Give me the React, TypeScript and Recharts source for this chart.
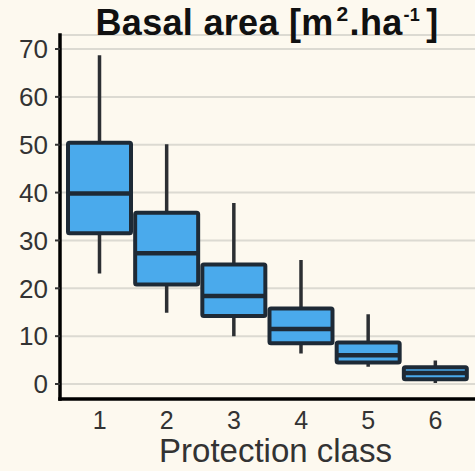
import React from 'react';
import { ComposedChart, Bar, XAxis, YAxis, CartesianGrid } from 'recharts';

const classes = ['1', '2', '3', '4', '5', '6'];
const whiskerLow = [23.1, 14.9, 10.0, 6.4, 3.6, 0.2];
const q1 = [31.5, 20.8, 14.2, 8.5, 4.5, 1.0];
const median = [39.8, 27.3, 18.4, 11.5, 6.0, 2.3];
const q3 = [50.4, 35.8, 25.0, 15.8, 8.7, 3.5];
const whiskerHigh = [68.7, 50.1, 37.8, 25.9, 14.6, 4.9];
const yTicks = [0, 10, 20, 30, 40, 50, 60, 70];

const data = classes.map((c, i) => ({
  cls: c,
  low: whiskerLow[i],
  q1: q1[i],
  median: median[i],
  q3: q3[i],
  high: whiskerHigh[i],
  range: [whiskerLow[i], whiskerHigh[i]],
}));

const BG = '#fdf9ef';
const FILL = '#4aaaec';
const EDGE = '#1e2a36';
const WHISK = '#2c2f33';
const FONT = '"Liberation Sans", Arial, sans-serif';

const BoxShape = (props: any) => {
  const { x, y, width, height, payload } = props;
  const p = payload;
  const span = p.high - p.low;
  const pix = (v: number) => y + (height * (p.high - v)) / span;
  const cx = x + width / 2;
  const yq3 = pix(p.q3);
  const yq1 = pix(p.q1);
  return (
    <g>
      <line x1={cx} x2={cx} y1={pix(p.high)} y2={yq3} stroke={WHISK} strokeWidth={3.5} />
      <line x1={cx} x2={cx} y1={yq1} y2={pix(p.low)} stroke={WHISK} strokeWidth={3.5} />
      <rect x={x} y={yq3} width={width} height={yq1 - yq3} fill={FILL} stroke={EDGE} strokeWidth={4} rx={1.5} />
      <line x1={x} x2={x + width} y1={pix(p.median)} y2={pix(p.median)} stroke={EDGE} strokeWidth={4.5} />
    </g>
  );
};

export default function App() {
  return (
    <div style={{ position: 'absolute', left: 0, top: 0, width: 475, height: 471, background: BG, overflow: 'hidden' }}>
      <ComposedChart
        width={475}
        height={471}
        data={data}
        margin={{ top: 35, right: 0, bottom: 0, left: 0 }}
        style={{ position: 'absolute', left: 0, top: 0 }}
      >
        <CartesianGrid horizontal vertical={false} stroke="#dcdad2" strokeWidth={2} />
        <XAxis
          dataKey="cls"
          type="category"
          padding={{ left: 6, right: 6 }}
          height={72}
          axisLine={{ stroke: '#000', strokeWidth: 3.5, strokeLinecap: 'square' }}
          tickLine={false}
          tickSize={0}
          tickMargin={12}
          tick={{ fill: '#333', fontSize: 25, fontFamily: FONT }}
          label={{
            value: 'Protection class',
            position: 'insideBottom',
            offset: 9,
            dx: 8,
            fill: '#333',
            fontSize: 33,
            fontFamily: FONT,
          }}
        />
        <YAxis
          type="number"
          domain={[-3.13, 72.93]}
          allowDataOverflow
          ticks={yTicks}
          width={60}
          axisLine={{ stroke: '#000', strokeWidth: 3.5, strokeLinecap: 'square' }}
          tickLine={{ stroke: '#333', strokeWidth: 2 }}
          tickSize={5}
          tickMargin={7}
          tick={{ fill: '#333', fontSize: 26, fontFamily: FONT }}
        />
        <Bar dataKey="range" barSize={63} shape={BoxShape} isAnimationActive={false} />
      </ComposedChart>
      <svg width={475} height={50} style={{ position: 'absolute', left: 0, top: 0 }}>
        <text x={267} y={35} textAnchor="middle" fontFamily={FONT} fontWeight="bold" fontSize={36} letterSpacing={0.3} fill="#111">
          Basal area [m
          <tspan dx={3} dy={-14} fontSize={21}>2</tspan>
          <tspan dx={1} dy={14}>.ha</tspan>
          <tspan dx={1} dy={-14} fontSize={18}>-1</tspan>
          <tspan dx={6} dy={14}>]</tspan>
        </text>
      </svg>
    </div>
  );
}
